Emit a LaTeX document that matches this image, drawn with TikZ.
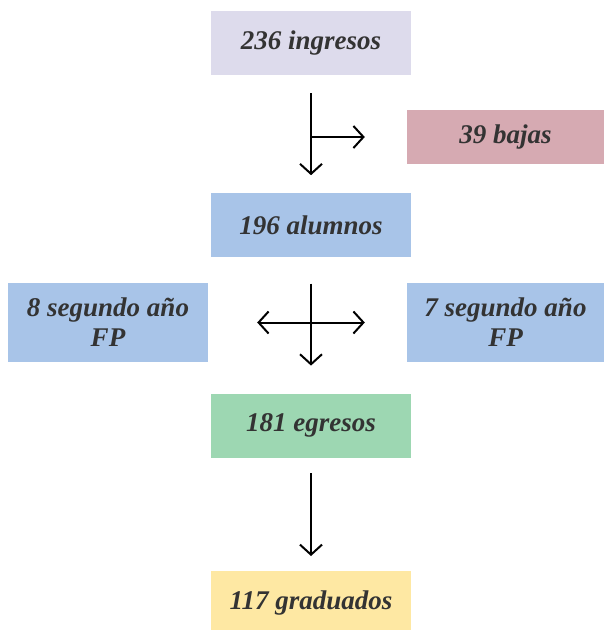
\documentclass[tikz,border=0pt]{standalone}
\usepackage{fontspec}
\setmainfont{Liberation Serif}
\usepackage{tikz}
\usetikzlibrary{arrows.meta,positioning}
\definecolor{lavender}{RGB}{221,219,236}
\definecolor{rose}{RGB}{214,170,178}
\definecolor{skyblue}{RGB}{168,196,232}
\definecolor{mint}{RGB}{157,215,178}
\definecolor{sand}{RGB}{254,232,163}
\definecolor{inkgray}{RGB}{51,51,51}
\tikzset{
  stepbox/.style={rectangle, minimum width=200pt, minimum height=64pt, align=center,
    inner sep=0pt, text=inkgray, font=\fontsize{27}{30}\selectfont\bfseries\itshape},
  flow/.style={-{Straight Barb[length=10pt, width=22pt, line width=2pt]}, line width=2pt, black}
}
\begin{document}
\begin{tikzpicture}[x=1pt, y=-1pt]
\useasboundingbox (0,0) rectangle (604,630);
\node[stepbox, fill=lavender] (ingresos) at (311,43) {236 ingresos};
\node[stepbox, fill=skyblue, below=118pt of ingresos] (alumnos) {196 alumnos};
\node[stepbox, fill=rose, minimum width=197pt, minimum height=54pt] (bajas) at (505.5,137) {39 bajas};
\node[stepbox, fill=skyblue, minimum height=79pt] (fpleft) at (108,322.5) {8 segundo año\\FP};
\node[stepbox, fill=skyblue, minimum width=197pt, minimum height=79pt] (fpright) at (505.5,322.5) {7 segundo año\\FP};
\node[stepbox, fill=mint, below=136pt of alumnos] (egresos) {181 egresos};
\node[stepbox, fill=sand, below=113pt of egresos] (graduados) {117 graduados};

% junctions
\coordinate (split1) at (ingresos.south |- bajas.west);
\coordinate (split2) at (alumnos.south |- fpright.west);

\draw[flow, shorten <=18pt, shorten >=18pt] (ingresos) -- (alumnos);
\draw[flow, shorten >=42pt] (split1) -- (bajas);
\draw[flow, shorten <=26pt, shorten >=28pt] (alumnos) -- (egresos);
\draw[flow, shorten >=49pt] (split2) -- (fpleft);
\draw[flow, shorten >=42pt] (split2) -- (fpright);
\draw[flow, shorten <=15pt, shorten >=15pt] (egresos) -- (graduados);
\end{tikzpicture}
\end{document}
